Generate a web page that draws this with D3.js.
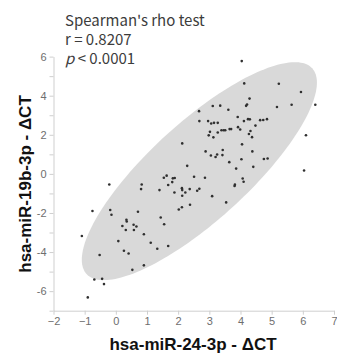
<!DOCTYPE html>
<html>
<head>
<meta charset="utf-8">
<script src="https://cdn.jsdelivr.net/npm/d3@7"></script>
<style>
  html, body { margin: 0; padding: 0; background: #fff; }
  svg { display: block; }
</style>
</head>
<body>
<div id="chart"></div>
<script>
// hsa-miR-24-3p ΔCT (x) vs hsa-miR-19b-3p ΔCT (y), one pair per sample
const mir24 = [
  -0.90, -0.69, -0.44, -0.38, -1.09, -0.75, -0.52, -0.21, -0.18, -0.14,
  0.08, 0.21, 0.26, 0.32, 0.34, 0.35, 0.41, 0.53, 0.57, 0.58,
  0.66, 0.71, 0.83, 0.81, 0.90, 0.90, 1.12, 1.33, 1.40, 1.44,
  1.55, 1.54, 1.63, 1.68, 1.68, 1.81, 1.83, 1.89, 1.88, 2.02,
  2.12, 2.12, 2.13, 2.13, 2.23, 2.37, 2.38, 2.29, 2.13, 2.51,
  2.61, 2.68, 2.86, 3.09, 3.54, 2.88, 3.05, 3.20, 3.25, 3.42,
  3.43, 3.64, 3.86, 4.03, 4.07, 4.10, 3.82, 3.81, 4.41, 4.38,
  4.75, 4.87, 6.04, 6.10, 4.05, 2.98, 3.02, 3.13, 3.27, 3.39,
  3.46, 3.51, 3.65, 3.70, 3.92, 3.99, 4.32, 4.27, 4.37, 4.48,
  2.68, 2.96, 3.06, 3.15, 3.27, 3.91, 4.11, 4.24, 4.30, 4.63,
  4.73, 4.85, 2.67, 3.11, 3.35, 3.61, 4.18, 4.21, 5.17, 5.64,
  6.40, 4.29, 4.12, 5.23, 5.94, 4.04
];
const mir19b = [
  -6.32, -5.40, -5.37, -5.64, -3.18, -1.90, -4.15, -0.54, -1.85, -2.09,
  -3.44, -2.67, -3.93, -2.87, -2.35, -2.44, -4.07, -4.91, -2.60, -2.87,
  -2.69, -1.94, -0.54, -0.78, -3.09, -4.68, -3.52, -3.83, -0.83, -2.23,
  -2.58, -0.20, -0.09, -0.57, -3.69, -0.42, -0.23, -0.21, -0.95, -1.82,
  -1.71, -0.73, -0.83, -1.12, -0.95, -0.78, -1.58, 0.41, 1.56, -0.15,
  -0.86, -0.76, -0.20, -1.14, -1.46, 1.15, 0.94, 0.86, 0.99, 0.96,
  1.22, 0.60, 0.27, 0.75, -0.24, -0.40, -0.55, -0.62, 0.36, 1.15,
  0.76, 0.79, 0.17, 1.98, 1.51, 1.97, 2.15, 1.87, 2.12, 2.23,
  2.23, 2.23, 2.29, 2.29, 2.39, 2.27, 2.19, 2.04, 1.88, 2.47,
  2.70, 2.70, 2.58, 2.61, 2.61, 2.91, 2.70, 2.80, 2.79, 2.75,
  2.76, 2.80, 3.21, 3.47, 3.49, 3.28, 3.48, 3.55, 3.42, 3.54,
  3.54, 3.85, 4.63, 4.61, 4.19, 5.77
];

// confidence ellipse: centre and two conjugate semi-axes, in data units
const ellipseCenter = [2.68, 0.14];
const ellipseAxisA = [3.62, 5.26];
const ellipseAxisB = [-1.06, 1.85];

const xTicks = [-2, -1, 0, 1, 2, 3, 4, 5, 6, 7];
const yTicks = [-7, -6, -5, -4, -3, -2, -1, 0, 1, 2, 3, 4, 5, 6];
const yLabelled = [-6, -4, -2, 0, 2, 4, 6];

const xTitle = 'hsa-miR-24-3p - ΔCT';
const yTitle = 'hsa-miR-19b-3p - ΔCT';
const testName = "Spearman's rho test";
const rhoText = 'r = 0.8207';
const pText = ' < 0.0001';

const width = 337;
const height = 355;

const svg = d3.select('#chart')
  .append('svg')
  .attr('width', width)
  .attr('height', height);

const x = d3.scaleLinear().domain([-2, 7]).range([53.5, 334]);
const y = d3.scaleLinear().domain([-7, 6]).range([310.7, 56.6]);

// ellipse outline from the parametric form
const ellipsePts = d3.range(0, 2 * Math.PI + 0.001, Math.PI / 90).map(t => [
  ellipseCenter[0] + Math.cos(t) * ellipseAxisA[0] + Math.sin(t) * ellipseAxisB[0],
  ellipseCenter[1] + Math.cos(t) * ellipseAxisA[1] + Math.sin(t) * ellipseAxisB[1]
]);

svg.append('path')
  .datum(ellipsePts)
  .attr('fill', '#d9d9d9')
  .attr('stroke', 'none')
  .attr('d', d3.line().x(d => x(d[0])).y(d => y(d[1])).curve(d3.curveLinearClosed));

// axes
const xAxis = svg.append('g')
  .attr('transform', `translate(0,${y(-7)})`)
  .call(d3.axisBottom(x).tickValues(xTicks).tickSize(4).tickSizeOuter(0).tickPadding(3));

const yAxis = svg.append('g')
  .attr('transform', `translate(${x(-2)},0)`)
  .call(d3.axisLeft(y).tickValues(yTicks).tickSize(4).tickSizeOuter(0).tickPadding(3)
    .tickFormat(d => yLabelled.includes(d) ? d : ''));

[xAxis, yAxis].forEach(g => {
  g.selectAll('path, line').attr('stroke', '#cfcfcf');
  g.selectAll('text')
    .attr('fill', '#6e6e6e')
    .style('font-family', '"Liberation Sans", Arial, sans-serif')
    .style('font-size', '11px');
});

// points
svg.append('g')
  .selectAll('circle')
  .data(mir24.map((v, i) => [v, mir19b[i]]))
  .join('circle')
  .attr('cx', d => x(d[0]))
  .attr('cy', d => y(d[1]))
  .attr('r', 1.3)
  .attr('fill', '#2f2f2f');

// axis titles
svg.append('text')
  .attr('x', 193)
  .attr('y', 350)
  .attr('text-anchor', 'middle')
  .style('font-family', '"Liberation Sans", Arial, sans-serif')
  .style('font-weight', 'bold')
  .style('font-size', '17px')
  .attr('fill', '#111')
  .text(xTitle);

svg.append('text')
  .attr('transform', 'translate(31,184) rotate(-90)')
  .attr('text-anchor', 'middle')
  .style('font-family', '"Liberation Sans", Arial, sans-serif')
  .style('font-weight', 'bold')
  .style('font-size', '17px')
  .attr('fill', '#111')
  .text(yTitle);

// statistics annotation
const note = svg.append('g')
  .style('font-family', '"Noto Sans CJK JP", "Noto Sans", sans-serif')
  .style('font-size', '15px')
  .attr('fill', '#3c3c3c');

note.append('text').attr('x', 65).attr('y', 26).text(testName);
note.append('text').attr('x', 65).attr('y', 45).text(rhoText);
const pLine = note.append('text').attr('x', 65).attr('y', 64).attr('xml:space', 'preserve');
pLine.append('tspan').style('font-style', 'italic').text('p');
pLine.append('tspan').style('white-space', 'pre').text(pText);
</script>
</body>
</html>
